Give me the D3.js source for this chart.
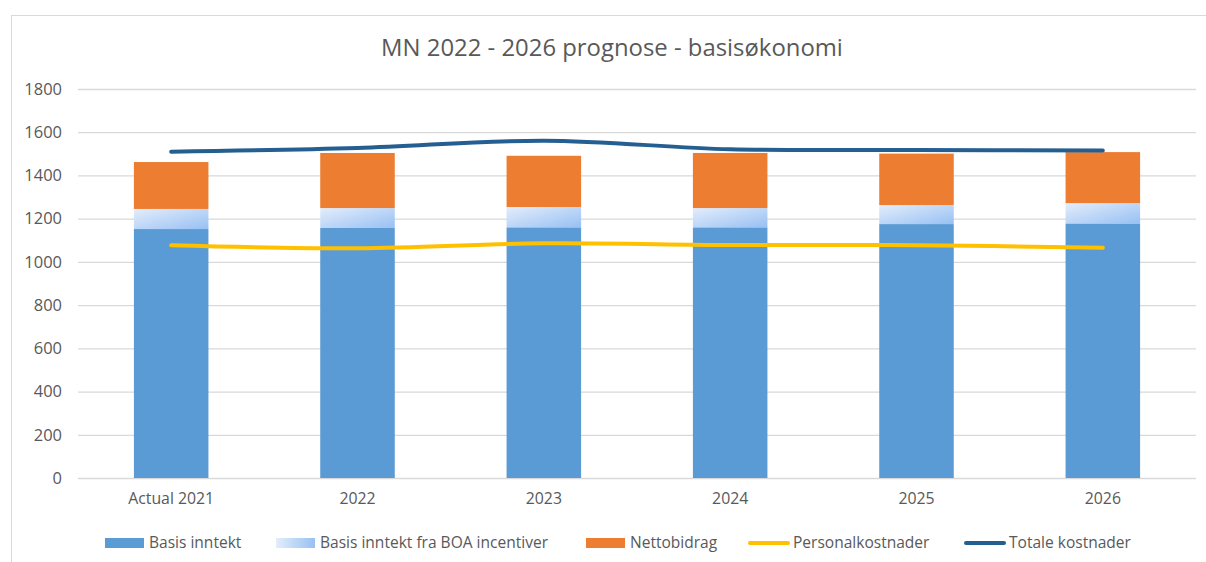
<!DOCTYPE html>
<html>
<head>
<meta charset="utf-8">
<script src="https://cdn.jsdelivr.net/npm/d3@7"></script>
<style>
  body { margin: 0; background: #fff; }
  svg text { font-family: "Open Sans", sans-serif; fill: #595959; }
</style>
</head>
<body>
<div id="chart"></div>
<script>
// Values
const categories = ['Actual 2021', '2022', '2023', '2024', '2025', '2026'];
const basisInntekt = [1152, 1157, 1160, 1160, 1175, 1178];
const boaIncentiver = [93, 92, 94, 89, 88, 94];
const nettobidrag = [217, 255, 237, 255, 238, 236];
const personalkostnader = [1077, 1063, 1086, 1078, 1077, 1066];
const totaleKostnader = [1510, 1527, 1561, 1521, 1518, 1515];
const yTicks = [0, 200, 400, 600, 800, 1000, 1200, 1400, 1600, 1800];

const title = 'MN 2022 - 2026 prognose - basisøkonomi';
const seriesNames = ['Basis inntekt', 'Basis inntekt fra BOA incentiver', 'Nettobidrag', 'Personalkostnader', 'Totale kostnader'];

const width = 1206, height = 562;
const margin = {top: 89, right: 10, bottom: 84, left: 78};

const svg = d3.select('#chart').append('svg')
    .attr('width', width)
    .attr('height', height);

// Font size that makes a sample string as wide as it is in the picture
function fitSize(sample, target) {
  const t = svg.append('text').attr('font-size', 100).text(sample);
  const w = t.node().getComputedTextLength();
  t.remove();
  return 100 * target / w;
}
const titleSize = fitSize(title, 462);
const tickSize = fitSize('1800', 37.7);
const catSize = fitSize('Actual 2021', 86);
const legendSize = fitSize('Totale kostnader', 122);

// Gradient for the BOA segment
const grad = svg.append('defs').append('linearGradient')
    .attr('id', 'boaGrad')
    .attr('x1', '0%').attr('y1', '0%').attr('x2', '100%').attr('y2', '100%');
grad.append('stop').attr('offset', '0%').attr('stop-color', '#e3edfb');
grad.append('stop').attr('offset', '100%').attr('stop-color', '#98c0f3');

// Chart border
svg.append('rect')
    .attr('x', 11.5).attr('y', 15.5)
    .attr('width', 1210).attr('height', 570)
    .attr('fill', 'none')
    .attr('stroke', '#d9d9d9');

svg.append('text')
    .attr('x', 612).attr('y', 56)
    .attr('text-anchor', 'middle')
    .attr('font-size', titleSize)
    .text(title);

const xScale = d3.scaleBand()
    .domain(categories)
    .range([margin.left, 1196])
    .paddingInner(0.6)
    .paddingOuter(0.3);

const yScale = d3.scaleLinear()
    .domain([0, 1800])
    .range([478, margin.top]);

// Gridlines
svg.append('g')
    .selectAll('line')
    .data(yTicks)
    .join('line')
    .attr('x1', margin.left).attr('x2', 1196)
    .attr('y1', d => yScale(d) + 0.5).attr('y2', d => yScale(d) + 0.5)
    .attr('stroke', '#d9d9d9')
    .attr('stroke-width', 1.3);

// Y axis labels
const yAxis = d3.axisLeft(yScale)
    .tickValues(yTicks)
    .tickFormat(d3.format('d'))
    .tickSize(0)
    .tickPadding(16);
const yAxisG = svg.append('g')
    .attr('transform', `translate(${margin.left},0)`)
    .call(yAxis);
yAxisG.select('.domain').remove();
yAxisG.selectAll('text').attr('font-size', tickSize).attr('font-family', null).attr('fill', null);

// X axis labels
const xAxis = d3.axisBottom(xScale).tickSize(0).tickPadding(15);
const xAxisG = svg.append('g')
    .attr('transform', 'translate(0,478)')
    .call(xAxis);
xAxisG.select('.domain').remove();
xAxisG.selectAll('text').attr('font-size', catSize).attr('font-family', null).attr('fill', null);

// Stacked bars
const stackData = categories.map((c, i) => ({
  cat: c, basis: basisInntekt[i], boa: boaIncentiver[i], netto: nettobidrag[i]
}));
const stack = d3.stack().keys(['basis', 'boa', 'netto'])(stackData);
const fills = {basis: '#5b9bd5', boa: 'url(#boaGrad)', netto: '#ed7d31'};

svg.append('g')
    .selectAll('g')
    .data(stack)
    .join('g')
    .attr('fill', d => fills[d.key])
    .selectAll('rect')
    .data(d => d)
    .join('rect')
    .attr('x', d => xScale(d.data.cat))
    .attr('width', xScale.bandwidth())
    .attr('y', d => yScale(d[1]))
    .attr('height', d => yScale(d[0]) - yScale(d[1]));

// Smoothed lines
const line = d3.line()
    .x((d, i) => xScale(categories[i]) + xScale.bandwidth() / 2)
    .y(d => yScale(d))
    .curve(d3.curveCatmullRom.alpha(0.5));

svg.append('path')
    .datum(personalkostnader)
    .attr('d', line)
    .attr('fill', 'none')
    .attr('stroke', '#ffc000')
    .attr('stroke-width', 4)
    .attr('stroke-linecap', 'round');

svg.append('path')
    .datum(totaleKostnader)
    .attr('d', line)
    .attr('fill', 'none')
    .attr('stroke', '#255e91')
    .attr('stroke-width', 4)
    .attr('stroke-linecap', 'round');

// Legend
const legendItems = [
  {name: seriesNames[0], type: 'rect', fill: '#5b9bd5', x: 105},
  {name: seriesNames[1], type: 'rect', fill: 'url(#legGrad)', x: 276},
  {name: seriesNames[2], type: 'rect', fill: '#ed7d31', x: 586},
  {name: seriesNames[3], type: 'line', fill: '#ffc000', x: 748},
  {name: seriesNames[4], type: 'line', fill: '#255e91', x: 964}
];
const legGrad = svg.select('defs').append('linearGradient')
    .attr('id', 'legGrad')
    .attr('x1', '0%').attr('y1', '0%').attr('x2', '100%').attr('y2', '0%');
legGrad.append('stop').attr('offset', '0%').attr('stop-color', '#e3edfb');
legGrad.append('stop').attr('offset', '100%').attr('stop-color', '#98c0f3');

const legendY = 543;
const leg = svg.append('g')
    .selectAll('g')
    .data(legendItems)
    .join('g')
    .attr('transform', d => `translate(${d.x},${legendY})`);

leg.filter(d => d.type === 'rect').append('rect')
    .attr('x', 0).attr('y', -5)
    .attr('width', 39).attr('height', 10)
    .attr('fill', d => d.fill);

leg.filter(d => d.type === 'line').append('line')
    .attr('x1', 2).attr('x2', 40)
    .attr('y1', 0).attr('y2', 0)
    .attr('stroke', d => d.fill)
    .attr('stroke-width', 4)
    .attr('stroke-linecap', 'round');

leg.append('text')
    .attr('x', d => d.type === 'rect' ? 44 : 45)
    .attr('y', 0)
    .attr('dy', '0.35em')
    .attr('font-size', legendSize)
    .text(d => d.name);
</script>
</body>
</html>
